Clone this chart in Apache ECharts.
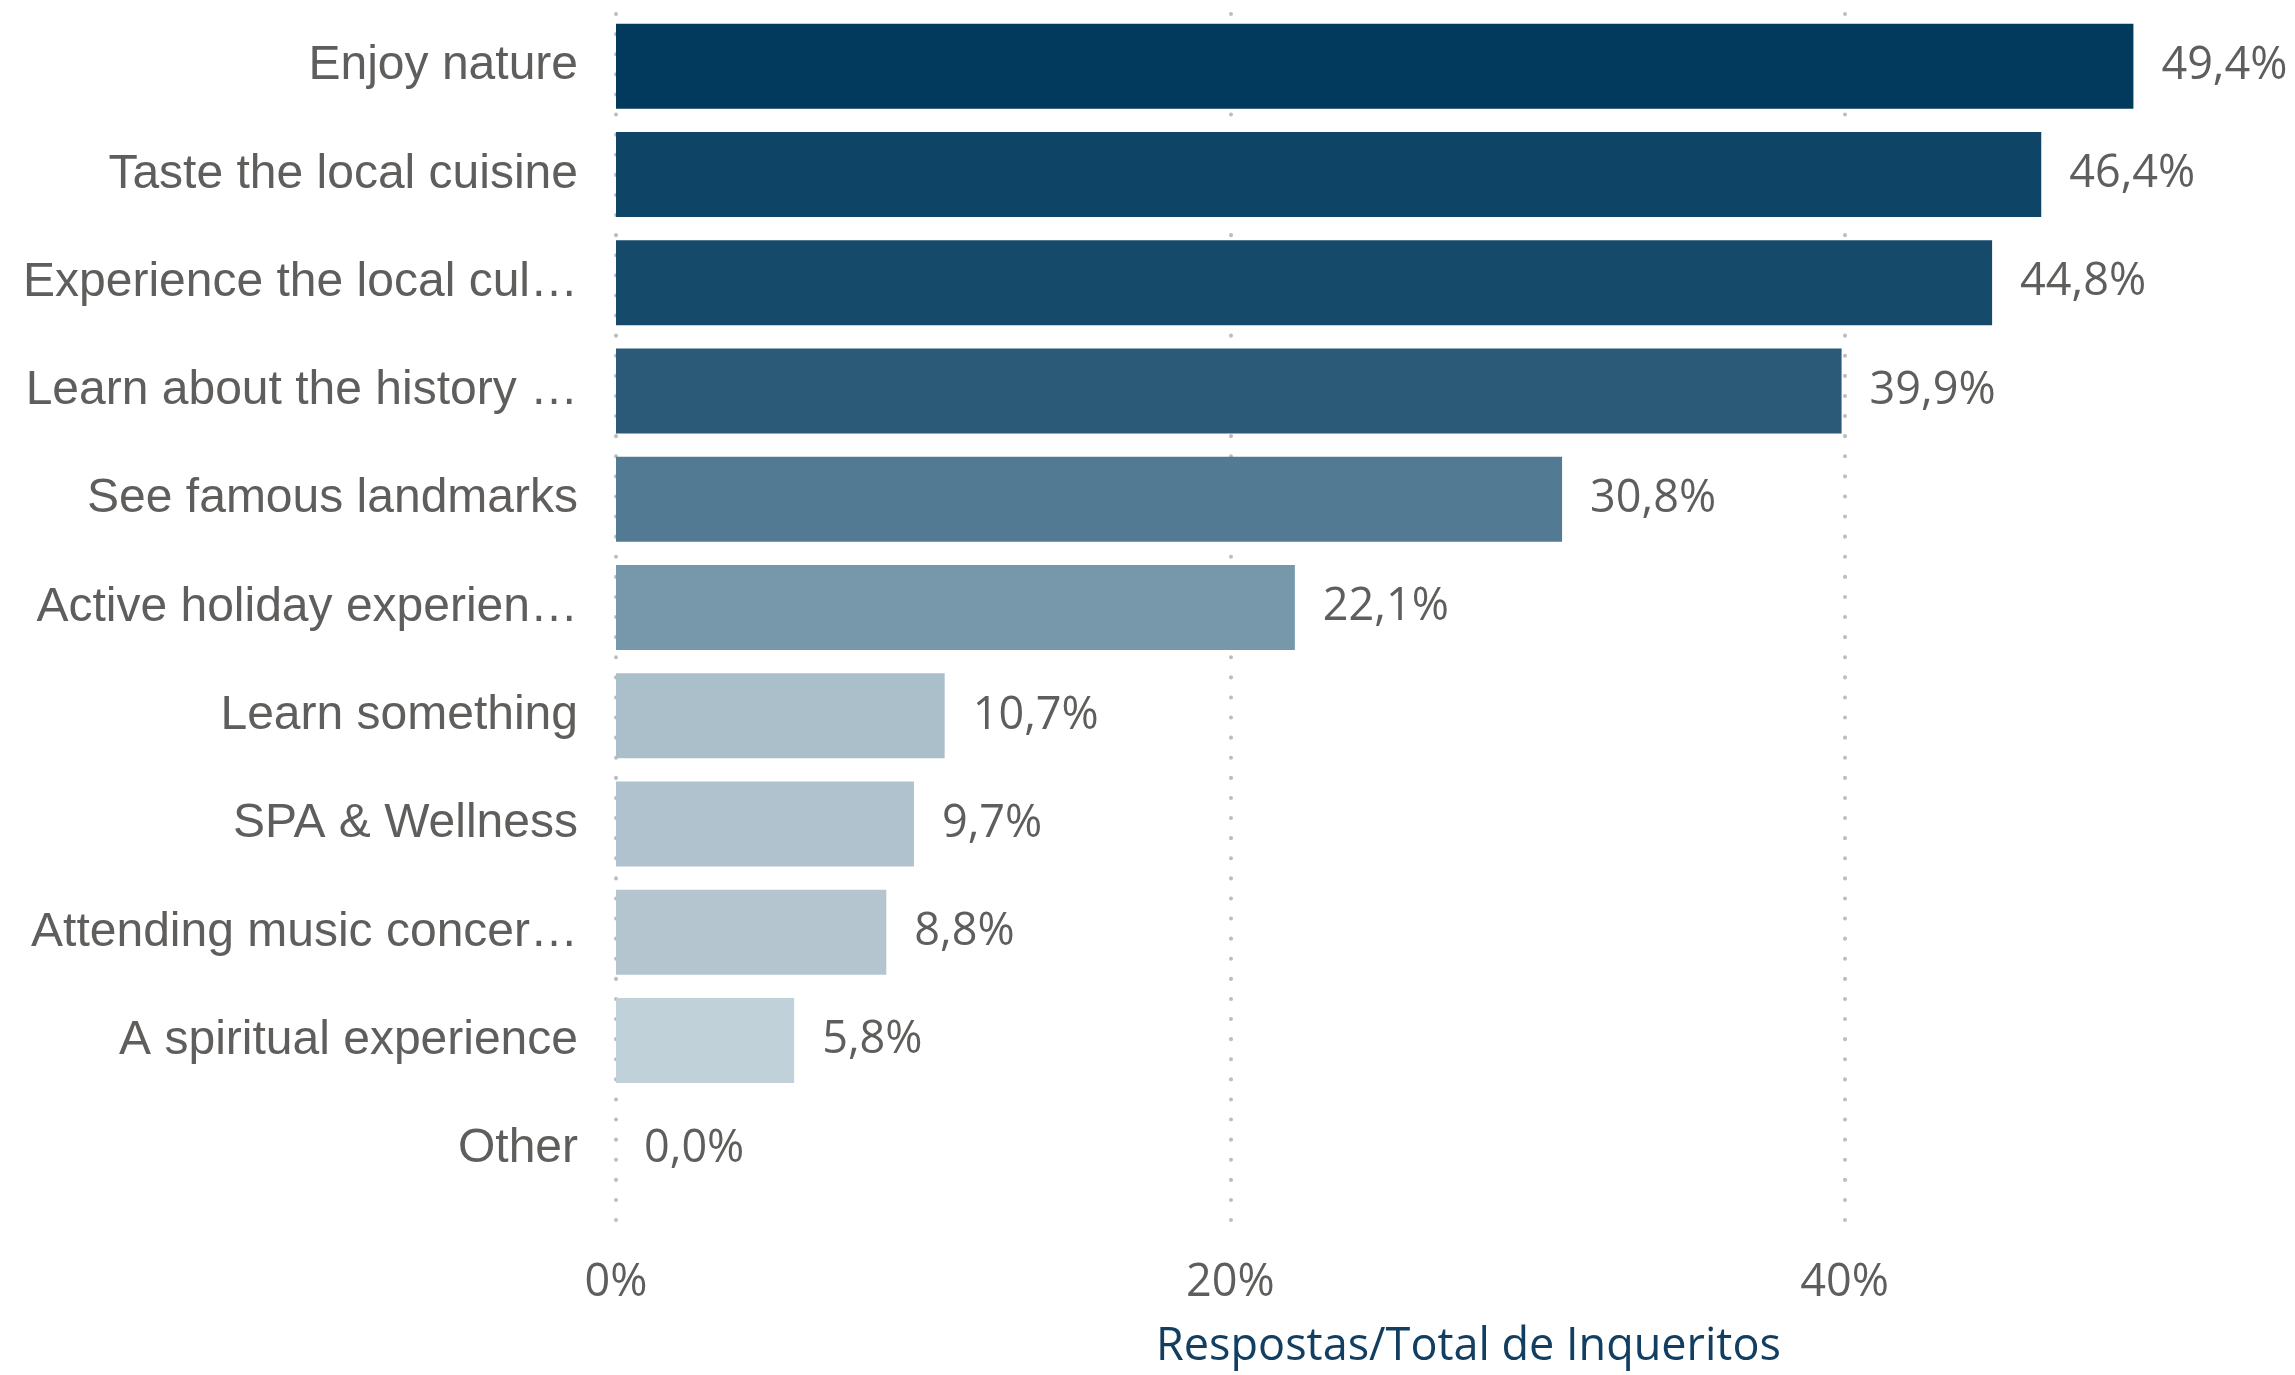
<!DOCTYPE html>
<html>
<head>
<meta charset="utf-8">
<title>Respostas/Total de Inqueritos</title>
<script src="https://cdn.jsdelivr.net/npm/echarts@6/dist/echarts.min.js"></script>
<style>
  html, body { margin: 0; padding: 0; background: #ffffff; }
  #chart { width: 2295px; height: 1375px; }
</style>
</head>
<body>
<div id="chart"></div>
<script>
// Motivations, top to bottom
const categories = [
  'Enjoy nature',
  'Taste the local cuisine',
  'Experience the local cul\u2026',
  'Learn about the history \u2026',
  'See famous landmarks',
  'Active holiday experien\u2026',
  'Learn something',
  'SPA & Wellness',
  'Attending music concer\u2026',
  'A spiritual experience',
  'Other'
];

// Share of answers over total surveys (%)
const shares = [49.4, 46.4, 44.8, 39.9, 30.8, 22.1, 10.7, 9.7, 8.8, 5.8, 0.0];

// Per-bar fill (darker = larger share)
const barColors = [
  '#023a5d', '#0e4466', '#164a6b', '#2b5a78', '#527a93',
  '#7797aa', '#abbfcb', '#b0c2cd', '#b4c5cf', '#c1d1d9', '#c1d1d9'
];

// Value axis ticks
const axisMin = 0;
const axisMax = 60;
const axisStep = 20;

const textGrey = '#605e5c';
const titleBlue = '#123f61';
const gridDots = '#bdbdbd';

const chart = echarts.init(document.getElementById('chart'), null, { renderer: 'canvas' });

const fmtPct = v => v.toFixed(1).replace('.', ',') + '%';

chart.setOption({
  animation: false,
  backgroundColor: '#ffffff',
  grid: [
    // bars
    { left: 616, right: -164, top: 12, bottom: 172, outerBoundsMode: 'none', containLabel: false },
    // dotted gridlines + tick labels
    { left: 616, right: -164, top: 14, bottom: 138, outerBoundsMode: 'none', containLabel: false }
  ],
  xAxis: [
    {
      gridIndex: 0,
      type: 'value',
      min: axisMin, max: axisMax, interval: axisStep,
      axisLine: { show: false }, axisTick: { show: false },
      axisLabel: { show: false }, splitLine: { show: false }
    },
    {
      gridIndex: 1,
      type: 'value',
      min: axisMin, max: axisMax, interval: axisStep,
      axisLine: { show: false }, axisTick: { show: false },
      axisLabel: {
        show: true,
        margin: 24,
        showMaxLabel: false,
        formatter: v => v + '%',
        color: textGrey,
        fontFamily: '"Open Sans", "Noto Sans", sans-serif',
        fontSize: 45
      },
      splitLine: {
        show: true,
        lineStyle: { color: gridDots, width: 4, type: [0.1, 20], cap: 'round' }
      },
      name: 'Respostas/Total de Inqueritos',
      nameLocation: 'middle',
      nameGap: 88,
      nameTextStyle: {
        color: titleBlue,
        fontFamily: '"Open Sans", "Noto Sans", sans-serif',
        fontSize: 45,
        padding: [0, 138, 0, 0]
      }
    }
  ],
  yAxis: [
    {
      gridIndex: 0,
      type: 'category',
      data: categories,
      inverse: true,
      axisLine: { show: false }, axisTick: { show: false },
      splitLine: { show: false },
      axisLabel: {
        margin: 38,
        padding: [12, 0, 0, 0],
        color: textGrey,
        fontFamily: '"Liberation Sans", Arial, sans-serif',
        fontSize: 48
      }
    },
    {
      gridIndex: 1,
      type: 'value',
      show: false,
      splitLine: { show: false }
    }
  ],
  series: [
    {
      type: 'bar',
      xAxisIndex: 0,
      yAxisIndex: 0,
      data: shares.map((v, i) => ({ value: v, itemStyle: { color: barColors[i] } })),
      barWidth: 85,
      label: {
        show: true,
        position: 'right',
        distance: 28,
        padding: [10, 0, 0, 0],
        formatter: p => fmtPct(p.value),
        color: textGrey,
        fontFamily: '"Open Sans", "Noto Sans", sans-serif',
        fontSize: 45
      },
      silent: true
    }
  ]
});
</script>
</body>
</html>
